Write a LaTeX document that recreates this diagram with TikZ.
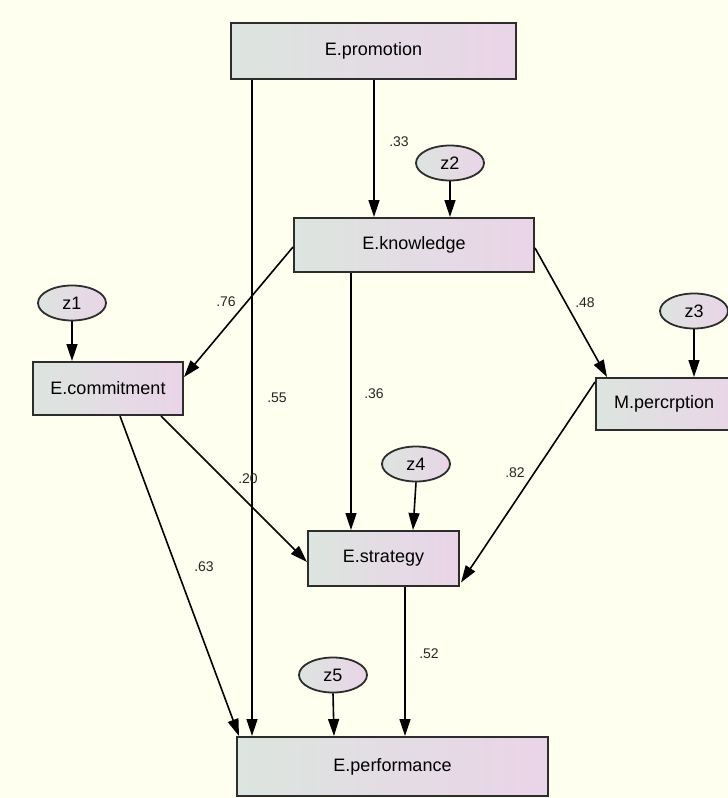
\documentclass[tikz,border=0pt]{standalone}
\usepackage{fontspec}
\setmainfont{Liberation Sans}
\usetikzlibrary{arrows.meta,calc,shapes.geometric}
\definecolor{bg}{RGB}{255,255,240}
\definecolor{gl}{RGB}{220,229,223}
\definecolor{gr}{RGB}{234,212,232}
\definecolor{bd}{RGB}{45,45,45}
\begin{document}
\begin{tikzpicture}[x=1pt,y=-1pt,
  box/.style={draw=bd, line width=2pt, left color=gl, right color=gr, rectangle, inner sep=0pt, font=\fontsize{18}{20}\selectfont},
  err/.style={draw=bd, line width=1.8pt, ellipse, left color=gl, right color=gr, minimum width=68pt, minimum height=35pt, inner sep=0pt, font=\fontsize{18}{20}\selectfont},
  conn/.style={-{Triangle[length=17pt,width=11pt]}, line width=1.6pt, black},
  coef/.style={font=\fontsize{14}{16}\selectfont, inner sep=1pt, text=black!85}
]
\useasboundingbox (0,0) rectangle (728,798);
\fill[bg] (0,0) rectangle (728,798);
\clip (0,0) rectangle (728,798);

% observed variables
\node[box, minimum width=285pt, minimum height=56pt] (pr) at (373.5,51) {E.promotion};
\node[box, minimum width=240pt, minimum height=54pt] (kn) at (414,245) {E.knowledge};
\node[box, minimum width=150pt, minimum height=53pt] (cm) at (108,388.5) {E.commitment};
\node[box, anchor=west, minimum height=52pt, text width=114pt, align=left, inner xsep=18pt] (mp) at (595,404) {M.percrption};
\node[box, minimum width=151pt, minimum height=55pt] (st) at (383.5,558.5) {E.strategy};
\node[box, minimum width=311pt, minimum height=59pt] (pf) at (392.5,766.5) {E.performance};

% error terms
\node[err] (z1) at (72,303) {z1};
\node[err] (z2) at (450,163) {z2};
\node[err] (z3) at (694,311) {z3};
\node[err] (z4) at (416,464) {z4};
\node[err] (z5) at (333,675) {z5};

% paths
\draw[conn] ($(pr.south west)+(22,0)$) -- ($(pf.north west)+(16,0)$);
\draw[conn] ($(pr.south west)+(144,0)$) -- ($(kn.north west)+(81,0)$);
\draw[conn] (z2.south) -- (z2.south |- kn.north);
\draw[conn] ($(kn.west)+(0,2)$) -- ($(cm.north east)+(0,16)$);
\draw[conn] ($(kn.east)+(0,3)$) -- ($(mp.north west)+(12,0)$);
\draw[conn] ($(kn.south west)+(58,0)$) -- ($(st.north west)+(44,0)$);
\draw[conn] (z3.south) -- (z3.south |- mp.north);
\draw[conn] (z1.south) -- (z1.south |- cm.north);
\draw[conn] ($(cm.south west)+(129,0)$) -- ($(st.west)+(0,3.5)$);
\draw[conn] ($(cm.south west)+(88,0)$) -- ($(pf.north west)+(3,0)$);
\draw[conn] ($(mp.north west)+(0,5)$) -- ($(st.east)+(1,24)$);
\draw[conn] (z4.south) -- ($(st.north west)+(106,0)$);
\draw[conn] ($(st.south west)+(98,0)$) -- ($(pf.north west)+(169,0)$);
\draw[conn] (z5.south) -- ($(pf.north west)+(98,0)$);

% coefficients
\node[coef] (l33) at (399,142) {.33};
\node[coef] (l55) at (277,398) {.55};
\node[coef] (l36) at (374,394) {.36};
\node[coef] (l76) at (226,302) {.76};
\node[coef] (l48) at (585,303) {.48};
\node[coef] (l20) at (248,479) {.20};
\node[coef] (l63) at (204,567) {.63};
\node[coef] (l82) at (515,473) {.82};
\node[coef] (l52) at (429,654) {.52};
\end{tikzpicture}
\end{document}
